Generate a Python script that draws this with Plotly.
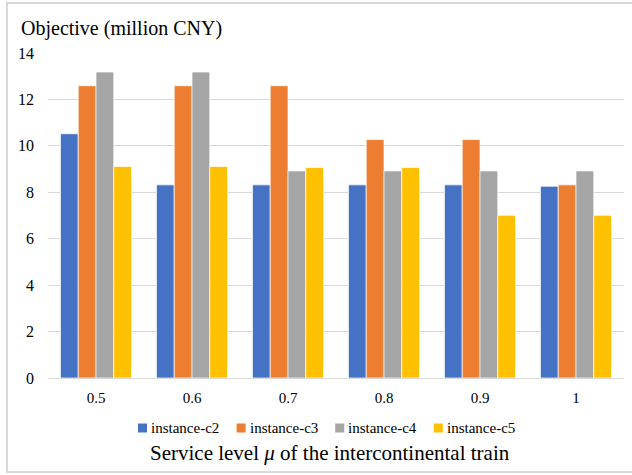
import plotly.graph_objects as go

# Service level of the intercontinental train
service_levels = ["0.5", "0.6", "0.7", "0.8", "0.9", "1"]

# Objective values (million CNY) per instance
instance_c2 = [10.52, 8.32, 8.32, 8.32, 8.32, 8.26]
instance_c3 = [12.59, 12.59, 12.59, 10.27, 10.27, 8.32]
instance_c4 = [13.18, 13.18, 8.92, 8.92, 8.92, 8.92]
instance_c5 = [9.11, 9.11, 9.07, 9.07, 7.01, 7.01]

series_names = ["instance-c2", "instance-c3", "instance-c4", "instance-c5"]
series_values = [instance_c2, instance_c3, instance_c4, instance_c5]
series_colors = ["#4472C4", "#ED7D31", "#A5A5A5", "#FFC000"]

y_ticks = [0, 2, 4, 6, 8, 10, 12, 14]

FONT = "Liberation Serif"

fig = go.Figure()
for name, vals, color in zip(series_names, series_values, series_colors):
    fig.add_trace(go.Bar(
        x=service_levels, y=vals, name=name, showlegend=False,
        marker=dict(color=color, line=dict(color="white", width=0.7)),
    ))

W, H = 632, 475
L, R, T, B = 48, 8, 53, 97
pw, ph = W - L - R, H - T - B

def px_x(p):
    return (p - L) / pw

def px_y(p):
    return (H - B - p) / ph

# Outer frame, legend swatches and labels
shapes = [
    dict(type="rect", xref="paper", yref="paper",
         x0=px_x(7), x1=px_x(645), y0=px_y(472), y1=px_y(3),
         line=dict(color="#D9D9D9", width=2), fillcolor="rgba(0,0,0,0)",
         layer="below"),
]
annotations = [
    dict(text="Objective (million CNY)", xref="paper", yref="paper",
         x=px_x(19), y=px_y(29), xanchor="left", yanchor="middle",
         showarrow=False, font=dict(family=FONT, size=20)),
    dict(text="Service level <i>μ</i> of the intercontinental train",
         xref="paper", yref="paper", x=px_x(330), y=px_y(453),
         xanchor="center", yanchor="middle", showarrow=False,
         font=dict(family=FONT, size=21)),
]
leg_x0, leg_step, leg_y, sw = 138, 98.6, 428, 9
for i, (name, color) in enumerate(zip(series_names, series_colors)):
    x0 = leg_x0 + i * leg_step
    shapes.append(dict(
        type="rect", xref="paper", yref="paper",
        x0=px_x(x0), x1=px_x(x0 + sw),
        y0=px_y(leg_y + sw / 2), y1=px_y(leg_y - sw / 2),
        fillcolor=color, line=dict(width=0),
    ))
    annotations.append(dict(
        text=name, xref="paper", yref="paper",
        x=px_x(x0 + sw + 2), y=px_y(leg_y), xanchor="left", yanchor="middle",
        showarrow=False, font=dict(family=FONT, size=15),
    ))

fig.update_layout(
    width=W, height=H,
    margin=dict(l=L, r=R, t=T, b=B),
    paper_bgcolor="white", plot_bgcolor="white",
    font=dict(family=FONT, color="#000000", size=14),
    barmode="group", bargap=0.26, bargroupgap=0,
    showlegend=False,
    xaxis=dict(
        showgrid=False, showline=True, linecolor="#D9D9D9", linewidth=1,
        ticks="", tickfont=dict(family=FONT, size=15), ticklabelstandoff=6,
    ),
    yaxis=dict(
        range=[0, 14], tickvals=y_ticks, showgrid=True, gridcolor="#D9D9D9",
        gridwidth=1, zeroline=False, showline=False, ticks="",
        tickfont=dict(family=FONT, size=16), ticklabelstandoff=13,
    ),
    annotations=annotations,
    shapes=shapes,
)

fig.write_html("out.html")
